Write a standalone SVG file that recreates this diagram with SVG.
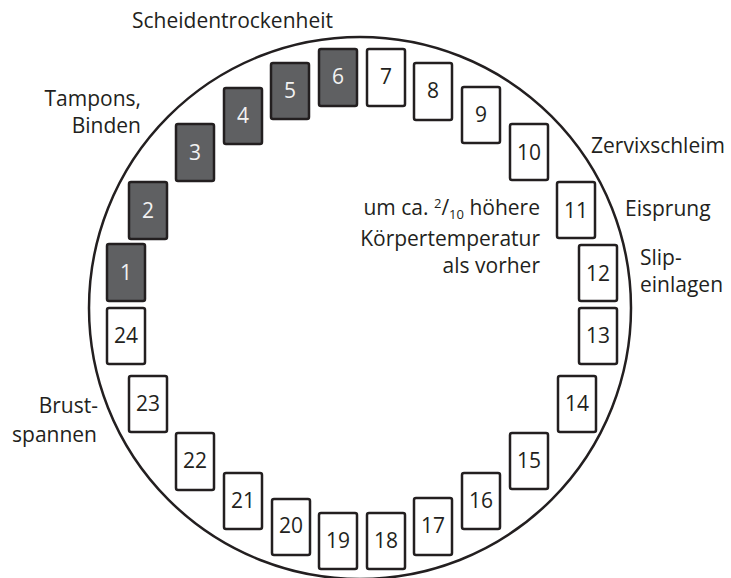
<svg xmlns="http://www.w3.org/2000/svg" width="731" height="578" viewBox="0 0 731 578">
<style>
.bg{fill:#ffffff}
.ring{fill:none;stroke:#231f20;stroke-width:2.5}
.box rect{fill:#ffffff;stroke:#231f20;stroke-width:2.5}
.box text{font-family:"Open Sans","Liberation Sans",sans-serif;font-size:21px;fill:#231f20;text-anchor:middle}
.dark rect{fill:#5f6062}
.dark text{fill:#f2f2f2}
.lbl{font-family:"Open Sans","Liberation Sans",sans-serif;font-size:21px;fill:#231f20}
.end{text-anchor:end}
</style>
<rect class="bg" x="0" y="0" width="731" height="578"/>
<g id="connectors">
<circle class="ring" cx="360" cy="308" r="271"/>
</g>
<g id="n1" class="box dark"><rect x="107" y="244" width="38" height="57" rx="2"/><text x="126" y="280">1</text></g>
<g id="n2" class="box dark"><rect x="129" y="182" width="38" height="57" rx="2"/><text x="148" y="218">2</text></g>
<g id="n3" class="box dark"><rect x="176" y="124" width="38" height="57" rx="2"/><text x="195" y="160">3</text></g>
<g id="n4" class="box dark"><rect x="224" y="88" width="38" height="56" rx="2"/><text x="243" y="123">4</text></g>
<g id="n5" class="box dark"><rect x="271" y="63" width="38" height="56" rx="2"/><text x="290" y="98">5</text></g>
<g id="n6" class="box dark"><rect x="319" y="49" width="38" height="57" rx="2"/><text x="338" y="84">6</text></g>
<g id="n7" class="box"><rect x="367" y="49" width="38" height="57" rx="2"/><text x="386" y="84">7</text></g>
<g id="n8" class="box"><rect x="414" y="63" width="38" height="57" rx="2"/><text x="433" y="98">8</text></g>
<g id="n9" class="box"><rect x="462" y="87" width="38" height="56" rx="2"/><text x="481" y="122">9</text></g>
<g id="n10" class="box"><rect x="510" y="124" width="38" height="56" rx="2"/><text x="529" y="160">10</text></g>
<g id="n11" class="box"><rect x="557" y="182" width="38" height="56" rx="2"/><text x="576" y="218">11</text></g>
<g id="n12" class="box"><rect x="579" y="245" width="38" height="56" rx="2"/><text x="598" y="281">12</text></g>
<g id="n13" class="box"><rect x="579" y="308" width="38" height="56" rx="2"/><text x="598" y="343">13</text></g>
<g id="n14" class="box"><rect x="558" y="376" width="38" height="56" rx="2"/><text x="577" y="411">14</text></g>
<g id="n15" class="box"><rect x="510" y="433" width="38" height="56" rx="2"/><text x="529" y="468">15</text></g>
<g id="n16" class="box"><rect x="462" y="473" width="38" height="56" rx="2"/><text x="481" y="508">16</text></g>
<g id="n17" class="box"><rect x="414" y="498" width="38" height="57" rx="2"/><text x="433" y="533">17</text></g>
<g id="n18" class="box"><rect x="367" y="513" width="38" height="56" rx="2"/><text x="386" y="548">18</text></g>
<g id="n19" class="box"><rect x="319" y="513" width="38" height="56" rx="2"/><text x="338" y="548">19</text></g>
<g id="n20" class="box"><rect x="272" y="499" width="38" height="56" rx="2"/><text x="291" y="533">20</text></g>
<g id="n21" class="box"><rect x="224" y="473" width="38" height="56" rx="2"/><text x="243" y="508">21</text></g>
<g id="n22" class="box"><rect x="176" y="433" width="38" height="57" rx="2"/><text x="195" y="468">22</text></g>
<g id="n23" class="box"><rect x="129" y="376" width="38" height="56" rx="2"/><text x="148" y="411">23</text></g>
<g id="n24" class="box"><rect x="107" y="308" width="38" height="56" rx="2"/><text x="126" y="343">24</text></g>
<g id="labels">
<text class="lbl" x="132" y="28">Scheidentrockenheit</text>
<text class="lbl end" x="141" y="106">Tampons,</text>
<text class="lbl end" x="141" y="133">Binden</text>
<text class="lbl" x="591" y="153">Zervixschleim</text>
<text class="lbl" x="625" y="216">Eisprung</text>
<text class="lbl" x="640" y="265">Slip-</text>
<text class="lbl" x="640" y="292">einlagen</text>
<text class="lbl end" x="98" y="413">Brust-</text>
<text class="lbl end" x="97" y="442">spannen</text>
<text class="lbl end" x="540" y="215">um ca. <tspan font-size="13" dy="-7">2</tspan><tspan dy="7">/</tspan><tspan font-size="13" dy="4">10</tspan><tspan dy="-4"> höhere</tspan></text>
<text class="lbl end" x="540" y="246">Körpertemperatur</text>
<text class="lbl end" x="540" y="273">als vorher</text>
</g>
</svg>
